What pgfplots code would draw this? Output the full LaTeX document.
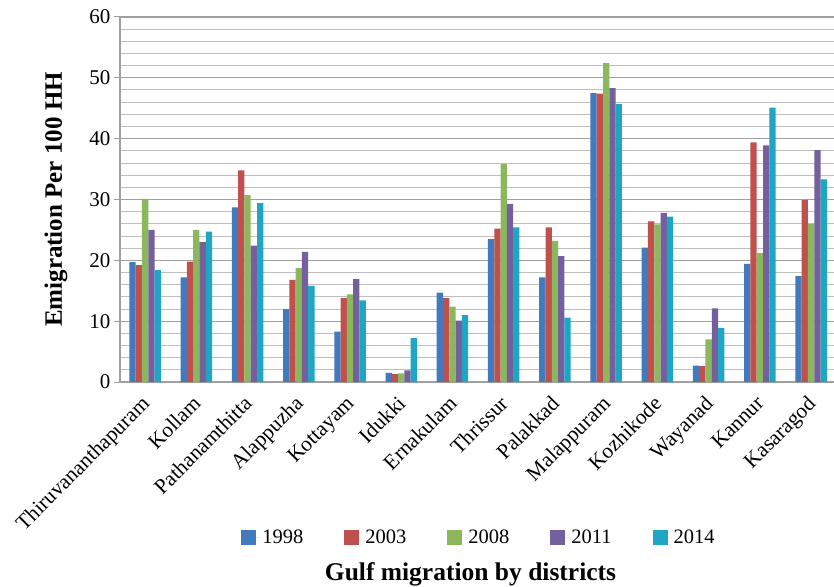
\documentclass[border=0pt]{standalone}
\usepackage{fontspec}
\setmainfont{Liberation Serif}
\usepackage{pgfplots}
\usepackage{pgfplotstable}
\pgfplotsset{compat=1.18}
\definecolor{cA}{RGB}{66,122,190}
\definecolor{cB}{RGB}{192,80,77}
\definecolor{cC}{RGB}{139,184,93}
\definecolor{cD}{RGB}{117,96,158}
\definecolor{cE}{RGB}{31,166,196}
\definecolor{gridc}{RGB}{190,190,190}
\definecolor{gridm}{RGB}{160,160,160}
\pgfplotstableread{
x a b c d e
0 19.7 19.2 30.1 25.0 18.4
1 17.2 19.8 25.0 23.0 24.7
2 28.7 34.8 30.7 22.4 29.4
3 12.0 16.8 18.7 21.4 15.8
4 8.3 13.8 14.4 16.9 13.4
5 1.5 1.3 1.4 1.9 7.2
6 14.7 13.8 12.4 10.1 11.0
7 23.5 25.2 35.8 29.3 25.4
8 17.2 25.4 23.2 20.7 10.6
9 47.5 47.4 52.4 48.3 45.7
10 22.1 26.4 25.9 27.8 27.2
11 2.7 2.6 7.0 12.1 8.9
12 19.4 39.4 21.2 38.9 45.1
13 17.4 29.9 26.0 38.1 33.3
}\data
\begin{document}
\begin{tikzpicture}
\begin{axis}[name=ax, scale only axis, width=714bp, height=365bp,
  xmin=-0.49, xmax=13.447, ymin=0, ymax=60,
  ybar=0pt, bar width=6.3bp,
  xtick={0,...,13},
  xticklabels={Thiruvananthapuram,Kollam,Pathanamthitta,Alappuzha,Kottayam,Idukki,Ernakulam,Thrissur,Palakkad,Malappuram,Kozhikode,Wayanad,Kannur,Kasaragod},
  x tick label style={rotate=45, anchor=north east, font=\fontsize{21.3bp}{21.3bp}\selectfont, inner sep=1bp, xshift=-7bp},
  xtick style={draw=none},
  ytick={0,10,...,60}, minor ytick={2,4,...,58},
  ymajorgrids, yminorgrids,
  major grid style={gridm, line width=1.1bp},
  minor grid style={gridc, line width=1bp},
  axis x line*=bottom, axis y line*=left,
  axis line style={gridm, line width=1.3bp, -},
  ytick style={gridm, line width=1bp},
  tick align=outside, major tick length=6bp, minor tick length=0pt,
  y tick label style={font=\fontsize{21bp}{21bp}\selectfont, /pgf/number format/assume math mode=true},
  legend columns=5,
  legend style={draw=none, at={(0.5,0)}, anchor=center, xshift=2bp, yshift=-155bp, font=\fontsize{20.5bp}{20.5bp}\selectfont,
    /tikz/every even column/.append style={column sep=39bp}},
  legend image code/.code={\path[#1,draw=none] (0bp,-7.5bp) rectangle (15bp,7.5bp); \path (0bp,0bp) -- (19bp,0bp);},
]
\addplot[fill=cA, draw=none] table[x=x,y=a]{\data};
\addplot[fill=cB, draw=none] table[x=x,y=b]{\data};
\addplot[fill=cC, draw=none] table[x=x,y=c]{\data};
\addplot[fill=cD, draw=none] table[x=x,y=d]{\data};
\addplot[fill=cE, draw=none] table[x=x,y=e]{\data};
\legend{1998,2003,2008,2011,2014}
\end{axis}
\node[rotate=90, anchor=base, font=\fontsize{25bp}{25bp}\selectfont\bfseries] at ([xshift=-58bp]ax.west) {Emigration Per 100 HH};
\node[anchor=base, font=\fontsize{25.5bp}{25.5bp}\selectfont\bfseries] at ([shift={(350.5bp,-198bp)}]ax.south west) {Gulf migration by districts};
\pgfresetboundingbox
\path[use as bounding box] ([shift={(-120bp,-205bp)}]ax.south west) rectangle ([shift={(0bp,17bp)}]ax.north east);
\end{tikzpicture}
\end{document}
